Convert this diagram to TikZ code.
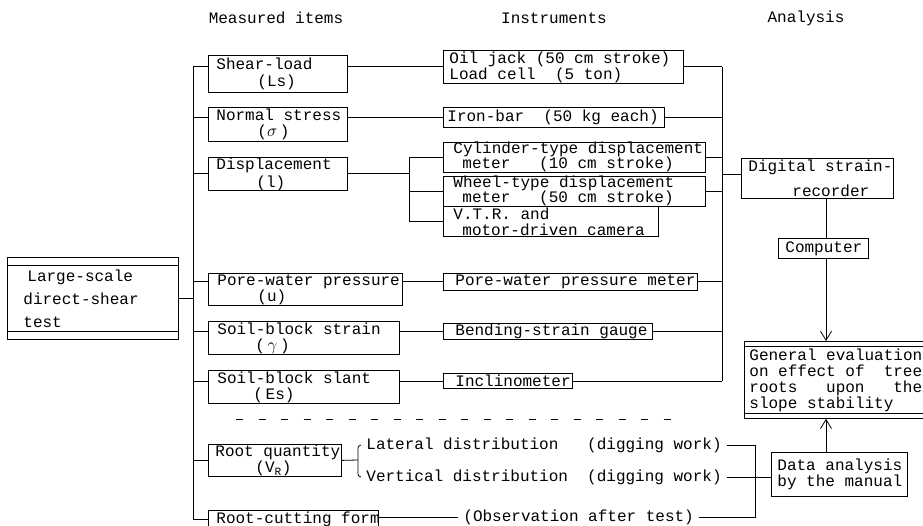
\documentclass[tikz,border=0pt]{standalone}
\usepackage{fontspec}
\setmainfont{Liberation Mono}
\usetikzlibrary{arrows.meta}
\newcommand{\nodefont}{\fontsize{16}{16}\selectfont\spaceskip 9.6pt\relax}
\newcommand{\bx}[7]{%
  \pgfmathsetmacro\mytw{#4-2*#6}%
  \node[bx, inner xsep=#6pt, text width=\mytw pt, minimum width=#4pt, minimum height=#5pt] (#1) at (#2,#3) {#7};}
\newcommand{\myl}[1]{\leavevmode\hbox{\spaceskip 9.6pt\xspaceskip 9.6pt\relax #1}}
\newcommand{\jline}[1]{\leavevmode\hbox to 172.8pt{\spaceskip 9.6pt\xspaceskip 9.6pt\relax #1}}
\tikzset{
  every node/.style={font=\nodefont},
  bx/.style={draw, line width=0.8pt, anchor=north west, inner ysep=0pt, align=left},
  txt/.style={inner xsep=5pt, inner ysep=0pt},
  arr/.style={-{Straight Barb[length=9pt,width=11pt]}},
}
\begin{document}
\begin{tikzpicture}[x=1pt,y=-1pt, line width=0.8pt]
\useasboundingbox (0,0) rectangle (923,526);
\fill[white] (0,0) rectangle (923,526);

% headers
\node[txt] (h1) at (276,18) {Measured items};
\node[txt] (h2) at (554,18) {Instruments};
\node[txt] (h3) at (806,18) {Analysis};

% left box
\bx{test}{7}{257}{171}{82}{16}{\myl{\hspace*{4pt}Large-scale}\\[7pt]\myl{direct-shear}\\[7pt]\myl{test}}
\draw ([yshift=-8pt]test.north west) -- ([yshift=-8pt]test.north east);
\draw ([yshift=8pt]test.south west) -- ([yshift=8pt]test.south east);

% measured items
\bx{shear}{208}{55}{139}{37}{8}{\myl{Shear-load}\\[1pt]\myl{\hspace*{41pt}(Ls)}}
\bx{normal}{208}{107}{139}{34}{8}{\myl{Normal stress}\\\myl{\hspace*{41pt}($\sigma$\,)}}
\bx{disp}{208}{157}{139}{33}{8}{\myl{Displacement}\\[2pt]\myl{\hspace*{40pt}(l)}}
\bx{pore}{208}{273}{194}{32}{9}{\myl{Pore-water pressure}\\\myl{\hspace*{40pt}(u)}}
\bx{strain}{208}{321}{191}{33}{9}{\myl{Soil-block strain}\\\myl{\hspace*{38pt}(\,$\gamma$\,)}}
\bx{slant}{208}{370}{191}{33}{9}{\myl{Soil-block slant}\\\myl{\hspace*{36pt}(\,Es)}}
\bx{rootq}{208}{444}{133}{32}{7}{\myl{Root quantity}\\\myl{\hspace*{40pt}(V\textsubscript{R})}}
\bx{rootcut}{208}{510}{170}{17}{8}{\myl{Root-cutting form}}

% instruments
\bx{oil}{443}{50}{240}{33}{6}{\myl{Oil jack (50 cm stroke)}\\\myl{Load cell\ \ (5 ton)}}
\bx{iron}{443}{107}{221}{20}{4}{\myl{Iron-bar\ \ (50 kg each)}}
\bx{cyl}{443}{142}{262}{28}{10}{\myl{Cylinder-type displacement}\\[-1pt]\myl{\hspace*{9pt}meter\ \ \ (10 cm stroke)}}
\bx{wheel}{443}{176}{262}{26}{10}{\myl{Wheel-type displacement}\\[-1pt]\myl{\hspace*{9pt}meter\ \ \ (50 cm stroke)}}
\bx{vtr}{443}{206}{215}{30}{10}{\myl{V.T.R. and}\\\myl{\hspace*{9pt}motor-driven camera}}
\bx{porem}{443}{273}{254}{17}{12}{\myl{Pore-water pressure meter}}
\bx{bend}{443}{323}{209}{16}{12}{\myl{Bending-strain gauge}}
\bx{incl}{443}{373}{129}{15}{12}{\myl{Inclinometer}}

% analysis
\bx{digital}{741}{158}{152}{40}{7}{\myl{Digital strain-}\\[9pt]\myl{\hspace*{44pt}recorder}}
\bx{comp}{778}{238}{90}{20}{7}{\myl{Computer}}
\bx{geneval}{744}{341}{184}{77}{5}{\myl{General evaluation}\\\jline{on effect of\hfill tree}\\\jline{roots\hfill upon\hfill the}\\\myl{slope stability}}
\draw ([yshift=-5pt]geneval.north west) -- ([yshift=-5pt]geneval.north east);
\draw ([yshift=5pt]geneval.south west) -- ([yshift=5pt]geneval.south east);
\bx{data}{771}{452}{136}{44}{6}{\myl{Data analysis}\\\myl{by the manual}}

% free texts
\node[txt, anchor=west] (lat) at (361,445) {Lateral distribution\ \ \ (digging work)};
\node[txt, anchor=west] (vert) at (361,477) {Vertical distribution\ \ (digging work)};
\node[txt, anchor=west] (obs) at (458,517) {(Observation after test)};

% coordinates
\coordinate (LT) at (193,67);
\coordinate (RT) at (722,67);
\coordinate (BKd) at (409,173);
\coordinate (BK) at (358,460);
\coordinate (RB) at (755,445);
\coordinate (CX) at (826,300);
\coordinate (dashA) at (236,419);
\coordinate (dashB) at (682,419);

% left trunk
\draw (LT) -- (LT |- rootcut.west);
\draw (test.east) -- (test.east -| LT);
\draw (shear.west |- oil.west) -- (LT |- oil.west);
\draw (normal.west |- iron.west) -- (LT |- iron.west);
\draw (disp.west) -- (disp.west -| LT);
\draw (pore.west |- porem.west) -- (LT |- porem.west);
\draw (strain.west |- bend.west) -- (LT |- bend.west);
\draw (slant.west |- incl.west) -- (LT |- incl.west);
\draw (rootq.west) -- (rootq.west -| LT);
\draw (rootcut.west) -- (rootcut.west -| LT);

% measured -> instruments
\draw (shear.east |- oil.west) -- (oil.west);
\draw (normal.east |- iron.west) -- (iron.west);
\draw (disp.east) -- (disp.east -| BKd);
\draw (cyl.west) -- (cyl.west -| BKd) -- (BKd |- vtr.west) -- (vtr.west);
\draw (wheel.west) -- (wheel.west -| BKd);
\draw (pore.east |- porem.west) -- (porem.west);
\draw (strain.east |- bend.west) -- (bend.west);
\draw (slant.east |- incl.west) -- (incl.west);

% right trunk
\draw (RT) -- (RT |- incl.east);
\draw (oil.east) -- (oil.east -| RT);
\draw (iron.east) -- (iron.east -| RT);
\draw (cyl.east) -- (cyl.east -| RT);
\draw (wheel.east) -- (wheel.east -| RT);
\draw (porem.east) -- (porem.east -| RT);
\draw (bend.east) -- (bend.east -| RT);
\draw (incl.east) -- (incl.east -| RT);
\draw ([yshift=4pt]digital.west) -- ([yshift=4pt]digital.west -| RT);

% analysis chain
\draw (digital.south -| CX) -- (comp.north -| CX);
\draw[arr] (comp.south -| CX) -- (geneval.north -| CX);
\draw[arr] (data.north -| CX) -- (geneval.south -| CX);

% separator
\draw[dash pattern=on 7pt off 15.5pt] (dashA) -- (dashB);

% root part
\draw (rootq.east) -- (BK);
\draw[rounded corners=3pt] (lat.west) -- (BK |- lat.west) -- (BK |- vert.west) -- (vert.west);
\draw (lat.east) -- (lat.east -| RB) -- (RB |- obs.east) -- (obs.east);
\draw (vert.east) -- (vert.east -| data.west);
\draw (rootcut.east |- obs.west) -- (obs.west);
\end{tikzpicture}
\end{document}
